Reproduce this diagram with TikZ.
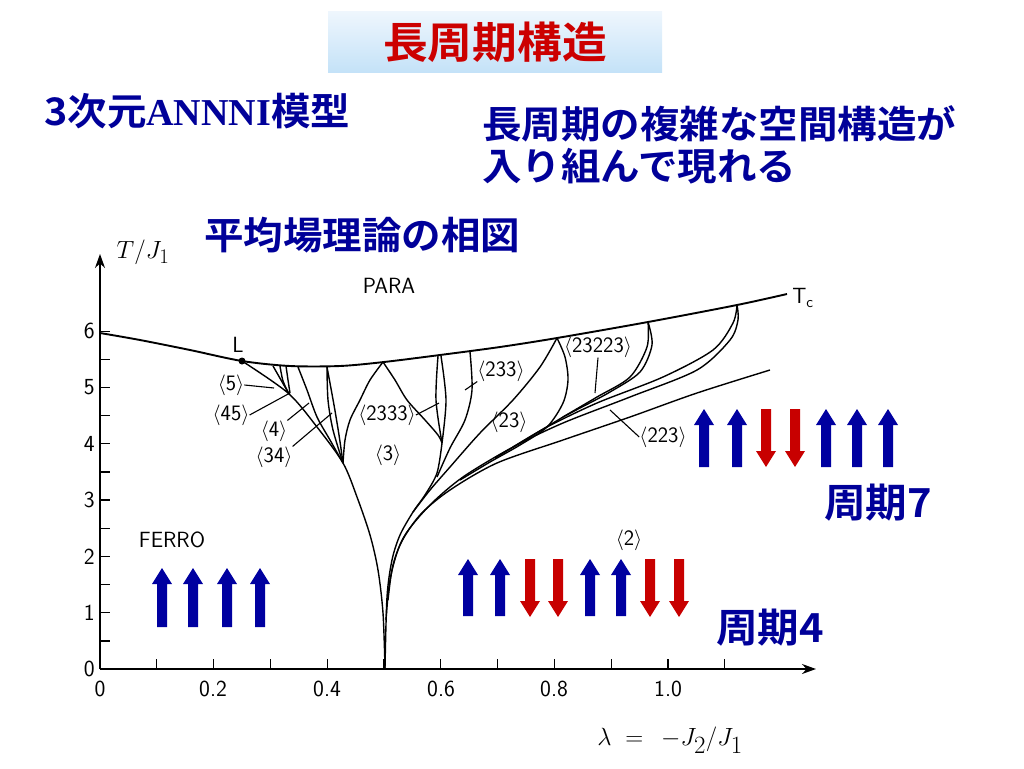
\documentclass[tikz,border=0pt]{standalone}
\usepackage{fontspec}
\usepackage{amsmath}
\usetikzlibrary{arrows.meta}
\newfontfamily\jpfont{Noto Sans CJK JP}[BoldFont={* Bold},FakeStretch=1.04]
\newfontfamily\romfont{Liberation Serif}
\definecolor{textblue}{RGB}{0,0,153}
\definecolor{spinblue}{RGB}{0,0,160}
\definecolor{spinred}{RGB}{200,0,0}
\definecolor{titlered}{RGB}{204,0,0}
\definecolor{boxtop}{RGB}{238,246,253}
\definecolor{boxbottom}{RGB}{196,226,248}
\tikzstyle{none}=[inner sep=0pt]
\tikzstyle{titlebox}=[inner sep=0pt,minimum width=334pt,minimum height=60pt,top color=boxtop,bottom color=boxbottom,text=titlered,font=\jpfont\bfseries\fontsize{43}{46}\selectfont]
\tikzstyle{jptext}=[inner sep=0pt,text=textblue,align=left,font=\jpfont\bfseries\fontsize{38}{42}\selectfont]
\tikzstyle{period}=[inner sep=0pt,text=textblue,font=\jpfont\bfseries\fontsize{40}{42}\selectfont]
\tikzstyle{phaselabel}=[inner sep=0pt,font=\sffamily\fontsize{22}{22}\selectfont]
\tikzstyle{ticklabel}=[inner sep=0pt,font=\sffamily\fontsize{23}{23}\selectfont]
\tikzstyle{mathlabel}=[inner sep=0pt,font=\fontsize{31}{31}\selectfont]
\tikzstyle{boundary}=[line width=1.4pt]
\tikzstyle{critical}=[line width=1.9pt]
\tikzstyle{leader}=[line width=1.1pt]
\tikzstyle{tick}=[line width=1.3pt]
\tikzstyle{axis}=[line width=1.7pt,-{Stealth[length=14pt,width=10pt]}]
\tikzstyle{upspin}=[fill=spinblue]
\tikzstyle{downspin}=[fill=spinred]
% block arrows: x, tail, tip
\newcommand{\spinup}[3]{\fill[style=upspin] (#1-5,#2) -- (#1-5,#3+16) -- (#1-10,#3+16) -- (#1,#3) -- (#1+10,#3+16) -- (#1+5,#3+16) -- (#1+5,#2) -- cycle;}
\newcommand{\spindown}[3]{\fill[style=downspin] (#1-5,#2) -- (#1-5,#3-16) -- (#1-10,#3-16) -- (#1,#3) -- (#1+10,#3-16) -- (#1+5,#3-16) -- (#1+5,#2) -- cycle;}

\begin{document}
\begin{tikzpicture}[x=1pt,y=-1pt]
	\useasboundingbox (0,0) rectangle (1024,768);

	\node [style=titlebox] (title) at (495,42) {長周期構造};
	\node [style=jptext, anchor=west] (model) at (44,111) {3次元{\romfont ANNNI}模型};
	\node [style=jptext, anchor=west] (remark) at (482,145) {長周期の複雑な空間構造が\\入り組んで現れる};
	\node [style=jptext, anchor=west] (caption) at (204,235) {平均場理論の相図};

	% axes
	\coordinate (O) at (100,669);
	\coordinate (ytip) at (100,254);
	\coordinate (xtip) at (816,669);
	\draw [style=axis] (O) -- (ytip);
	\draw [style=axis] (O) -- (xtip);
	\foreach \k in {1,...,12}
		\draw [style=tick] (100,669-28.15*\k) -- ++(10,0);
	\foreach \k in {1,...,11}
		\draw [style=tick] (100+56.8*\k,669) -- ++(0,-10);
	\foreach \t in {0,...,6}
		\node [style=ticklabel, anchor=east] (ylab\t) at (95,669-56.3*\t) {\t};
	\node [style=ticklabel] (xlab0) at (100,689) {0};
	\node [style=ticklabel] (xlab1) at (213,689) {0.2};
	\node [style=ticklabel] (xlab2) at (327,689) {0.4};
	\node [style=ticklabel] (xlab3) at (441,689) {0.6};
	\node [style=ticklabel] (xlab4) at (554,689) {0.8};
	\node [style=ticklabel] (xlab5) at (668,689) {1.0};
	\node [style=mathlabel] (ylabel) at (143,252) {$T/J_1$};
	\node [style=mathlabel, font=\fontsize{34}{34}\selectfont] (xlabel) at (670,740) {$\lambda\;=\;\,-J_2/J_1$};

	% phase boundaries
	\draw [style=critical] plot [smooth] coordinates {(100,333) (140,340) (190,350) (242,361) (290,366) (340,366) (384,362) (440,355) (500,347) (557,338) (648,322) (737,305) (787,294)};
	\draw [style=boundary] plot [smooth] coordinates {(242,361) (288,393) (317,427) (343,463) (357,497) (370,535) (378,570) (383,613) (385,668)};
	\draw [style=boundary] (273,366) -- (289,394);
	\draw [style=boundary] plot [smooth] coordinates {(280,366) (283,381) (289,394)};
	\draw [style=boundary] plot [smooth] coordinates {(286,366) (288,380) (290,393)};
	\draw [style=boundary] plot [smooth] coordinates {(298,367) (307,390) (317,417) (330,440) (343,463)};
	\draw [style=boundary] plot [smooth] coordinates {(327,367) (328,400) (333,430) (343,463)};
	\draw [style=boundary] plot [smooth] coordinates {(327,367) (334,405) (339,435) (343,463)};
	\draw [style=boundary] plot [smooth] coordinates {(383,362) (370,380) (360,400) (350,420) (345,440) (343,463)};
	\draw [style=boundary] plot [smooth] coordinates {(383,362) (395,380) (407,400) (425,420) (438,435) (442,443)};
	\draw [style=boundary] plot [smooth] coordinates {(438,356) (436,400) (442,443)};
	\draw [style=boundary] plot [smooth] coordinates {(441,356) (446,400) (442,443)};
	\draw [style=boundary] plot [smooth] coordinates {(442,443) (437,473) (425,495) (413,512) (400,535) (392,560) (387,597) (385,668)};
	\draw [style=boundary] plot [smooth] coordinates {(470,352) (472,390) (465,420) (450,448) (437,477)};
	\draw [style=boundary] plot [smooth] coordinates {(557,338) (540,367) (513,400) (480,433) (450,467) (430,490) (413,512)};
	\draw [style=boundary] plot [smooth] coordinates {(557,338) (565,357) (568,380) (563,403) (547,427) (520,445) (490,462) (460,480)};
	\draw [style=boundary] plot [smooth] coordinates {(648,322) (647,347) (630,377) (597,397) (563,417) (530,437) (495,458)};
	\draw [style=boundary] plot [smooth] coordinates {(648,322) (652,345) (640,372) (610,392) (580,408) (563,417)};
	\draw [style=boundary] plot [smooth] coordinates {(737,305) (738,320) (730,340) (697,370) (630,397) (563,423) (513,447) (463,477) (430,505) (405,535) (393,565) (388,600)};
	\draw [style=boundary] plot [smooth] coordinates {(737,305) (733,323) (713,350) (663,377) (597,403) (547,427) (513,447)};
	\draw [style=boundary] plot [smooth] coordinates {(770,370) (697,393) (630,417) (563,440) (497,463) (450,490) (420,515) (400,545) (390,580) (386,620)};

	% Lifshitz point
	\fill (242,361) circle (3.5);
	\node [style=phaselabel] (L) at (238,345) {L};

	% phase labels
	\node [style=phaselabel] (para) at (389,286) {PARA};
	\node [style=phaselabel] (ferro) at (172,540) {FERRO};
	\node [style=phaselabel] (tc) at (803,298) {T\textsubscript{c}};
	\node [style=phaselabel] (p5) at (231,385) {$\langle$5$\rangle$};
	\node [style=phaselabel] (p45) at (231,415) {$\langle$45$\rangle$};
	\node [style=phaselabel] (p4) at (274,431) {$\langle$4$\rangle$};
	\node [style=phaselabel] (p34) at (274,457) {$\langle$34$\rangle$};
	\node [style=phaselabel] (p2333) at (387,415) {$\langle$2333$\rangle$};
	\node [style=phaselabel] (p3) at (388,455) {$\langle$3$\rangle$};
	\node [style=phaselabel] (p233) at (501,371) {$\langle$233$\rangle$};
	\node [style=phaselabel] (p23) at (509,422) {$\langle$23$\rangle$};
	\node [style=phaselabel] (p23223) at (598,347) {$\langle$23223$\rangle$};
	\node [style=phaselabel] (p223) at (663,437) {$\langle$223$\rangle$};
	\node [style=phaselabel] (p2) at (629,540) {$\langle$2$\rangle$};

	\coordinate (q5) at (274,388);
	\coordinate (q45) at (290,393);
	\coordinate (q4) at (309,403);
	\coordinate (q34) at (332,413);
	\coordinate (q2333) at (439,403);
	\coordinate (q233) at (465,390);
	\coordinate (q23223) at (595,393);
	\coordinate (q223) at (610,410);
	\draw [style=leader] (p5.east) -- (q5);
	\draw [style=leader] (p45.east) -- (q45);
	\draw [style=leader] (p4.north east) -- (q4);
	\draw [style=leader] (p34.north east) -- (q34);
	\draw [style=leader] (p2333.east) -- (q2333);
	\draw [style=leader] (p233.south west) -- (q233);
	\draw [style=leader] (p23223.south) -- (q23223);
	\draw [style=leader] (p223.west) -- (q223);

	% spins
	\spinup{162}{627}{568}
	\spinup{193}{627}{568}
	\spinup{227}{627}{568}
	\spinup{260}{627}{568}

	\spinup{468}{616}{559}
	\spinup{500}{616}{559}
	\spindown{530}{559}{617}
	\spindown{558}{559}{617}
	\spinup{590}{616}{559}
	\spinup{621}{616}{559}
	\spindown{650}{559}{617}
	\spindown{679}{559}{617}

	\spinup{704}{467}{409}
	\spinup{737}{467}{409}
	\spindown{766}{409}{467}
	\spindown{795}{409}{467}
	\spinup{826}{467}{409}
	\spinup{857}{467}{409}
	\spinup{888}{467}{409}

	\node [style=period] (period7) at (878,503) {周期7};
	\node [style=period] (period4) at (770,628) {周期4};
\end{tikzpicture}
\end{document}
